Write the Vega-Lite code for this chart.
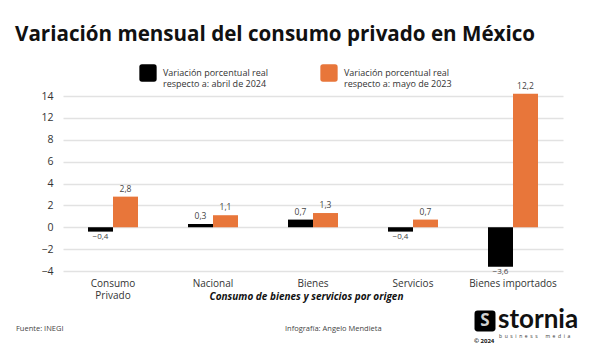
{
  "$schema": "https://vega.github.io/schema/vega-lite/v6.json",
  "padding": {"left": 15, "top": 25, "right": 5, "bottom": 5},
  "config": {
    "locale": {"number": {"decimal": ",", "thousands": ".", "grouping": [3], "currency": ["$", ""]}},
    "font": "Open Sans",
    "view": {"stroke": null},
    "concat": {"spacing": 5}
  },
  "title": {
    "text": "Variación mensual del consumo privado en México",
    "anchor": "start",
    "fontSize": 20.6,
    "fontWeight": "bold",
    "font": "Open Sans",
    "color": "#111111",
    "offset": 18
  },
  "datasets": {
    "bars": [
      {"categoria": "Consumo Privado", "serie": "Variación porcentual real respecto a: abril de 2024", "valor": -0.4},
      {"categoria": "Consumo Privado", "serie": "Variación porcentual real respecto a: mayo de 2023", "valor": 2.8},
      {"categoria": "Nacional", "serie": "Variación porcentual real respecto a: abril de 2024", "valor": 0.3},
      {"categoria": "Nacional", "serie": "Variación porcentual real respecto a: mayo de 2023", "valor": 1.1},
      {"categoria": "Bienes", "serie": "Variación porcentual real respecto a: abril de 2024", "valor": 0.7},
      {"categoria": "Bienes", "serie": "Variación porcentual real respecto a: mayo de 2023", "valor": 1.3},
      {"categoria": "Servicios", "serie": "Variación porcentual real respecto a: abril de 2024", "valor": -0.4},
      {"categoria": "Servicios", "serie": "Variación porcentual real respecto a: mayo de 2023", "valor": 0.7},
      {"categoria": "Bienes importados", "serie": "Variación porcentual real respecto a: abril de 2024", "valor": -3.6},
      {"categoria": "Bienes importados", "serie": "Variación porcentual real respecto a: mayo de 2023", "valor": 12.2}
    ],
    "footer": [
      {"item": "Fuente: INEGI", "tipo": "fuente"},
      {"item": "Infografía: Angelo Mendieta", "tipo": "credito"},
      {"item": "stornia", "tipo": "logo", "sub": "b\u00a0\u00a0u\u00a0\u00a0s\u00a0\u00a0i\u00a0\u00a0n\u00a0\u00a0e\u00a0\u00a0s\u00a0\u00a0s\u00a0\u00a0\u00a0\u00a0\u00a0\u00a0m\u00a0\u00a0e\u00a0\u00a0d\u00a0\u00a0i\u00a0\u00a0a", "year": "© 2024", "icon": "S"}
    ]
  },
  "vconcat": [
    {
      "width": 500,
      "height": 175,
      "data": {"name": "bars"},
      "encoding": {
        "x": {
          "field": "categoria",
          "type": "nominal",
          "sort": ["Consumo Privado", "Nacional", "Bienes", "Servicios", "Bienes importados"],
          "scale": {"paddingInner": 0.5, "paddingOuter": 0.25},
          "title": "Consumo de bienes y servicios por origen",
          "axis": {
            "labelAngle": 0,
            "ticks": false,
            "domain": false,
            "labelPadding": 7,
            "labelFontSize": 10,
            "labelColor": "#333333",
            "labelLineHeight": 12,
            "labelExpr": "datum.value == 'Consumo Privado' ? ['Consumo', 'Privado'] : datum.label",
            "titleFontSize": 10,
            "titleFontStyle": "italic",
            "titleFontWeight": "bold",
            "titleColor": "#111111",
            "titleX": 243,
            "titleY": 25,
            "titleBaseline": "middle",
            "titleAlign": "center"
          }
        },
        "xOffset": {"field": "serie", "type": "nominal", "sort": ["Variación porcentual real respecto a: abril de 2024", "Variación porcentual real respecto a: mayo de 2023"]},
        "y": {
          "field": "valor",
          "type": "quantitative",
          "scale": {"domain": [-4, 12], "nice": false},
          "axis": {
            "values": [-4, -2, 0, 2, 4, 6, 8, 10, 12],
            "labelExpr": "datum.value == 10 ? '12' : datum.value == 12 ? '14' : datum.label",
            "grid": true,
            "gridColor": "#e2e2e2",
            "gridWidth": 1.5,
            "domain": false,
            "ticks": false,
            "labelPadding": 10,
            "labelFontSize": 10.5,
            "labelColor": "#333333",
            "title": null,
            "minExtent": 48
          }
        }
      },
      "layer": [
        {
          "mark": {"type": "bar"},
          "encoding": {
            "color": {
              "field": "serie",
              "type": "nominal",
              "scale": {
                "domain": ["Variación porcentual real respecto a: abril de 2024", "Variación porcentual real respecto a: mayo de 2023"],
                "range": ["#000000", "#E8763A"]
              },
              "legend": {
                "orient": "none",
                "legendX": 76,
                "legendY": -32,
                "direction": "horizontal",
                "title": null,
                "symbolType": "M-0.7,-1H0.7Q1,-1,1,-0.7V0.7Q1,1,0.7,1H-0.7Q-1,1,-1,0.7V-0.7Q-1,-1,-0.7,-1Z",
                "symbolSize": 300,
                "symbolStrokeWidth": 0,
                "symbolOpacity": 1,
                "labelFontSize": 9,
                "labelColor": "#333333",
                "labelOffset": 6,
                "labelLimit": 200,
                "labelLineHeight": 12,
                "columnPadding": 52,
                "labelExpr": "[slice(datum.label, 0, 25), slice(datum.label, 26)]"
              }
            }
          }
        },
        {
          "transform": [{"filter": "datum.valor >= 0"}],
          "mark": {"type": "text", "baseline": "bottom", "dy": -3, "fontSize": 8.5, "color": "#444444"},
          "encoding": {"text": {"field": "valor", "type": "quantitative", "format": ".1f"}}
        },
        {
          "transform": [{"filter": "datum.valor < 0"}],
          "mark": {"type": "text", "baseline": "top", "dy": 1, "fontSize": 8, "color": "#444444"},
          "encoding": {"text": {"field": "valor", "type": "quantitative", "format": ".1f"}}
        }
      ]
    },
    {
      "width": 422,
      "height": 30,
      "data": {"name": "footer"},
      "encoding": {
        "x": {
          "field": "item",
          "type": "nominal",
          "scale": {"type": "point", "padding": 0, "range": [-47, 422], "domain": ["Fuente: INEGI", "Infografía: Angelo Mendieta", "stornia"]},
          "axis": null
        }
      },
      "layer": [
        {
          "transform": [{"filter": "datum.tipo == 'fuente'"}],
          "mark": {"type": "text", "align": "left", "baseline": "middle", "dy": 7.5, "fontSize": 7.5, "color": "#444444"},
          "encoding": {"text": {"field": "item"}}
        },
        {
          "transform": [{"filter": "datum.tipo == 'credito'"}],
          "mark": {"type": "text", "align": "left", "baseline": "middle", "dx": 34.5, "dy": 7.5, "fontSize": 7.5, "color": "#444444"},
          "encoding": {"text": {"field": "item"}}
        },
        {
          "transform": [{"filter": "datum.tipo == 'logo'"}],
          "mark": {"type": "point", "shape": "M-0.7,-1H0.7Q1,-1,1,-0.7V0.7Q1,1,0.7,1H-0.7Q-1,1,-1,0.7V-0.7Q-1,-1,-0.7,-1Z", "size": 440, "filled": true, "color": "#000000", "opacity": 1}
        },
        {
          "transform": [{"filter": "datum.tipo == 'logo'"}],
          "mark": {"type": "text", "align": "center", "baseline": "middle", "fontSize": 17, "fontWeight": "bold", "color": "#d0d0d0"},
          "encoding": {"text": {"field": "icon"}}
        },
        {
          "transform": [{"filter": "datum.tipo == 'logo'"}],
          "mark": {"type": "text", "align": "left", "baseline": "alphabetic", "dx": 13, "dy": 6.5, "fontSize": 26, "fontWeight": "bold", "font": "Lato", "color": "#111111"},
          "encoding": {"text": {"field": "item"}}
        },
        {
          "transform": [{"filter": "datum.tipo == 'logo'"}],
          "mark": {"type": "text", "align": "left", "baseline": "middle", "dx": 14, "dy": 14.5, "fontSize": 5, "color": "#333333"},
          "encoding": {"text": {"field": "sub"}}
        },
        {
          "transform": [{"filter": "datum.tipo == 'logo'"}],
          "mark": {"type": "text", "align": "left", "baseline": "middle", "dx": -11, "dy": 20, "fontSize": 6, "fontWeight": "bold", "color": "#111111"},
          "encoding": {"text": {"field": "year"}}
        }
      ]
    }
  ]
}
